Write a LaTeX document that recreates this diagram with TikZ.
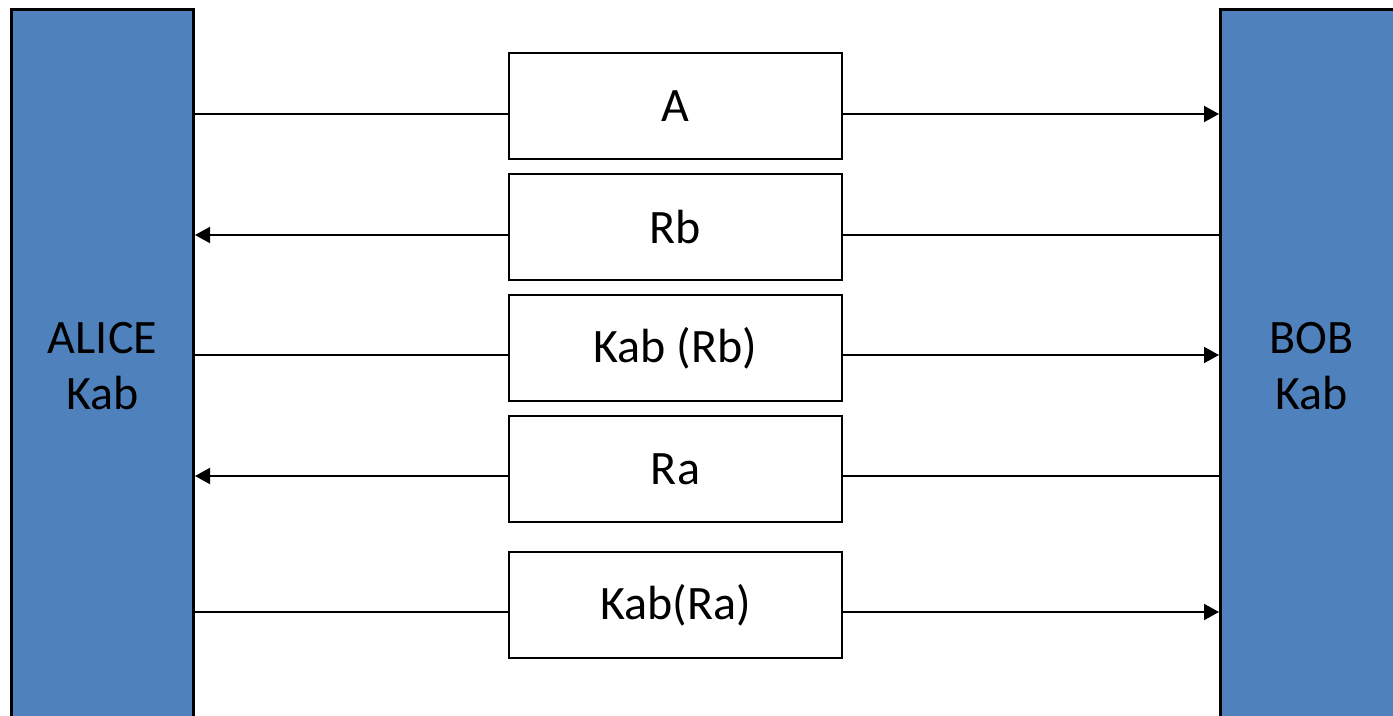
\documentclass[tikz,border=0pt]{standalone}
\usepackage{fontspec}
\setmainfont{Carlito}
\usetikzlibrary{arrows.meta}
\definecolor{barblue}{HTML}{4F81BD}
\begin{document}
\begin{tikzpicture}[x=0.5pt,y=-0.5pt,
  bar/.style={draw=black,line width=1.5pt,fill=barblue,minimum width=91pt,minimum height=357pt,inner sep=0pt,align=center,font=\fontsize{24pt}{28pt}\selectfont,anchor=north west},
  msg/.style={draw=black,line width=1pt,fill=white,minimum width=166.5pt,minimum height=53pt,inner sep=0pt,font=\fontsize{24pt}{28pt}\selectfont},
  conn/.style={line width=1pt},
  arr/.style={conn,-{Triangle[length=7.5pt,width=8pt]}}]
\useasboundingbox (0,0) rectangle (1393,716);
\clip (0,0) rectangle (1393,716);
\node[bar] (alice) at (10,8) {ALICE\\Kab};
\node[bar] (bob) at (1219,8) {BOB\\Kab};
\node[msg] (m1) at (675.5,106) {A};
\node[msg] (m2) at (675.5,227) {Rb};
\node[msg] (m3) at (675.5,348) {Kab (Rb)};
\node[msg] (m4) at (675.5,469) {Ra};
\node[msg] (m5) at (675.5,605) {Kab(Ra)};
\coordinate (y1) at (0,114);
\coordinate (y2) at (0,235);
\coordinate (y3) at (0,355);
\coordinate (y4) at (0,476);
\coordinate (y5) at (0,612);
\draw[conn] (alice.east |- y1) -- (m1.west |- y1);
\draw[arr] (m1.east |- y1) -- (bob.west |- y1);
\draw[arr] (m2.west |- y2) -- (alice.east |- y2);
\draw[conn] (bob.west |- y2) -- (m2.east |- y2);
\draw[conn] (alice.east |- y3) -- (m3.west |- y3);
\draw[arr] (m3.east |- y3) -- (bob.west |- y3);
\draw[arr] (m4.west |- y4) -- (alice.east |- y4);
\draw[conn] (bob.west |- y4) -- (m4.east |- y4);
\draw[conn] (alice.east |- y5) -- (m5.west |- y5);
\draw[arr] (m5.east |- y5) -- (bob.west |- y5);
\end{tikzpicture}
\end{document}
